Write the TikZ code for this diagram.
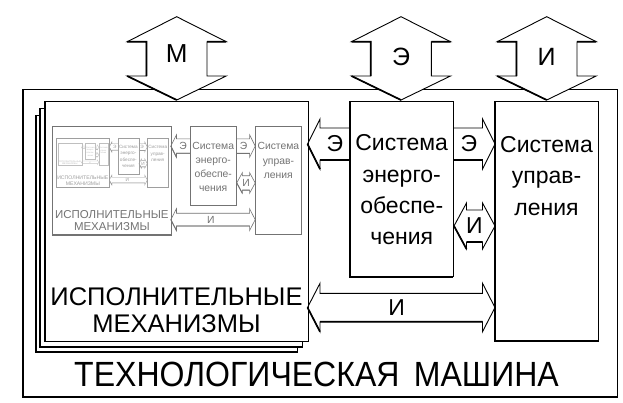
\documentclass[tikz,border=0pt]{standalone}
\usepackage{fontspec}
\setmainfont{Liberation Sans}
\usepackage{graphicx}
\definecolor{gA}{gray}{0.45}
\definecolor{gB}{gray}{0.62}
\definecolor{gC}{gray}{0.75}
\tikzset{
  sub/.style={shift={(32.45,81.25)}, scale=0.45, transform shape},
  plainbox/.style={inner sep=0pt, outer sep=0pt},
  pg/.style={draw, fill=white, line width=0.9pt, inner sep=0pt, outer sep=0pt, anchor=north west},
}
% horizontal fat arrows: #1 x-left, #2 x-right, #3 y centre, #4 shaft half, #5 head half, #6 thin style, #7 thick style
\newcommand\fatL[7]{%
  \draw[#6] (#2,{#3-#4}) -- ({#1+12.5},{#3-#4}) -- ({#1+12.5},{#3-#5}) -- (#1,#3) -- ({#1+12.5},{#3+#5}) -- ({#1+12.5},{#3+#4}) -- (#2,{#3+#4});
  \draw[#7] (#1,#3) -- ({#1+12.5},{#3+#5}) ({#1+12.5},{#3+#4}) -- (#2,{#3+#4});}
\newcommand\fatR[7]{%
  \draw[#6] (#1,{#3-#4}) -- ({#2-12.5},{#3-#4}) -- ({#2-12.5},{#3-#5}) -- (#2,#3) -- ({#2-12.5},{#3+#5}) -- ({#2-12.5},{#3+#4}) -- (#1,{#3+#4});
  \draw[#7] ({#2-12.5},{#3+#4}) -- (#1,{#3+#4});}
\newcommand\fatD[7]{%
  \draw[#6] (#1,#3) -- ({#1+12.5},{#3-#5}) -- ({#1+12.5},{#3-#4}) -- ({#2-12.5},{#3-#4}) -- ({#2-12.5},{#3-#5}) -- (#2,#3) -- ({#2-12.5},{#3+#5}) -- ({#2-12.5},{#3+#4}) -- ({#1+12.5},{#3+#4}) -- ({#1+12.5},{#3+#5}) -- cycle;
  \draw[#7] (#1,#3) -- ({#1+12.5},{#3+#5}) ({#1+12.5},{#3+#4}) -- ({#2-12.5},{#3+#4});}
% vertical fat arrow at top: #1 x centre
\newcommand\fatV[1]{%
  \draw[fill=white, line width=0.9pt] (#1,16.7) -- ({#1+49.5},41.7) -- ({#1+30.3},41.7) -- ({#1+30.3},76) -- ({#1+49.5},76) -- (#1,100) -- ({#1-49.5},76) -- ({#1-30.3},76) -- ({#1-30.3},41.7) -- ({#1-49.5},41.7) -- cycle;
  \draw[line width=1.7pt] ({#1-49.5},41.7) -- ({#1-30.3},41.7) -- ({#1-30.3},76) ({#1-49.5},76) -- (#1,100) ({#1+30.3},41.7) -- ({#1+49.5},41.7);}
% one level of the diagram: #1 prefix, #2 line colour, #3 thin width, #4 thick width, #5 text colour
\newcommand\content[5]{%
  \node[plainbox, draw=#2, fill=white, line width=#3, minimum width=263, minimum height=240.5, anchor=north west] (#1im) at (45,101) {};
  \draw[#2, line width=#4] (#1im.north west) -- (#1im.south west) -- (#1im.south east);
  \node[plainbox, text=#5, align=center, font=\fontsize{25.5}{27}\selectfont] (#1imt) at (176.5,310) {ИСПОЛНИТЕЛЬНЫЕ\\МЕХАНИЗМЫ};
  \node[plainbox, draw=#2, line width=#3, minimum width=103.3, minimum height=175.7, anchor=north west] (#1en) at (350,101) {};
  \draw[#2, line width=#4] (#1en.north west) -- (#1en.south west) -- (#1en.south east);
  \node[plainbox, text=#5, align=center, font=\fontsize{23}{31.3}\selectfont] (#1ent) at (401.7,190) {Система\\энерго-\\обеспе-\\чения};
  \node[plainbox, draw=#2, line width=#3, minimum width=103, minimum height=240, anchor=north west] (#1cu) at (495,101) {};
  \draw[#2, line width=#4] (#1cu.north west) -- (#1cu.south west) -- (#1cu.south east);
  \node[plainbox, text=#5, align=center, font=\fontsize{23}{31.5}\selectfont] (#1cut) at (546.5,176) {Система\\управ-\\ления};
  \fatL{307.5}{350}{144}{16}{25}{#2, line width=#3}{#2, line width=#4}
  \fatR{453.3}{495}{144}{16}{25}{#2, line width=#3}{#2, line width=#4}
  \fatD{454}{495}{226}{16}{23}{#2, line width=#3}{#2, line width=#4}
  \fatD{307.5}{495}{307.5}{14.2}{24.2}{#2, line width=#3}{#2, line width=#4}
  \node[plainbox, text=#5, font=\fontsize{23}{23}\selectfont] (#1la) at (335,144) {Э};
  \node[plainbox, text=#5, font=\fontsize{23}{23}\selectfont] (#1lb) at (469,144) {Э};
  \node[plainbox, text=#5, font=\fontsize{23}{23}\selectfont] (#1lc) at (474.5,226) {И};
  \node[plainbox, text=#5, font=\fontsize{23}{23}\selectfont] (#1ld) at (396.7,308) {И};
}
\begin{document}
\begin{tikzpicture}[x=1pt, y=-1pt]
\useasboundingbox (0,0) rectangle (623,402);
% outer frame
\node[plainbox, draw, line width=0.9pt, minimum width=595, minimum height=307.5, anchor=north west] (frame) at (22.7,89.5) {};
\draw[line width=1.7pt] (frame.north west) -- (frame.south west) -- (frame.south east);
% stacked pages
\node[pg, minimum width=261.3, minimum height=236.3] (p3) at (35.7,115.7) {};
\draw[line width=1.7pt] (p3.north west) -- (p3.south west) -- (p3.south east);
\node[pg, minimum width=262, minimum height=239] (p2) at (40,108) {};
\draw[line width=1.7pt] (p2.north west) -- (p2.south west) -- (p2.south east);
% main level and nested thumbnails
\content{a}{black}{0.9pt}{1.7pt}{black}
\begin{scope}[sub]
  \content{b}{gA}{0.6pt}{0.9pt}{gA}
  \begin{scope}[sub]
    \content{c}{gB}{0.4pt}{0.5pt}{gB}
    \begin{scope}[sub]
      \content{d}{gC}{0.3pt}{0.3pt}{gC}
    \end{scope}
  \end{scope}
\end{scope}
% top arrows
\fatV{176.7}
\fatV{401}
\fatV{546.7}
\node[plainbox, font=\fontsize{26}{26}\selectfont] (topM) at (176.7,54) {М};
\node[plainbox, font=\fontsize{25}{25}\selectfont] (topE) at (401,57) {Э};
\node[plainbox, font=\fontsize{25}{25}\selectfont] (topI) at (546.7,57) {И};
% title
\node[plainbox, font=\fontsize{35}{35}\selectfont] (title) at (316.5,374) {\scalebox{0.915}[1]{ТЕХНОЛОГИЧЕСКАЯ\hspace{0.45em}МАШИНА}};
\end{tikzpicture}
\end{document}
